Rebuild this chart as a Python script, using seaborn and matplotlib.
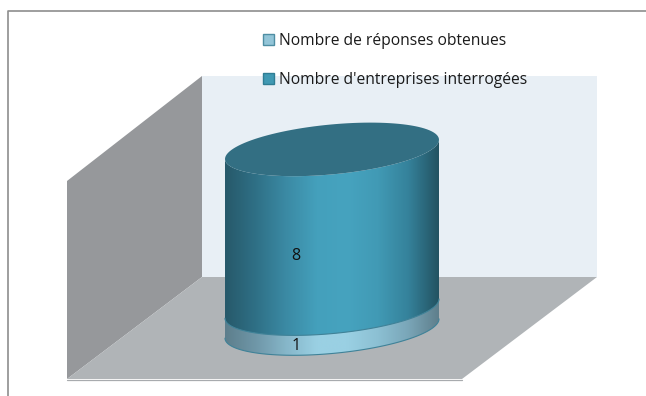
"""Cylindre empile 3D : reponses obtenues / entreprises interrogees."""

import matplotlib

matplotlib.use("Agg")

import matplotlib.pyplot as plt
import numpy as np
import seaborn as sns
from matplotlib.colors import LinearSegmentedColormap
from matplotlib.lines import Line2D
from matplotlib.patches import Patch, Polygon
from matplotlib.transforms import Affine2D

series_names = ["Nombre de réponses obtenues", "Nombre d'entreprises interrogées"]
series_values = [1, 8]

W, H = 646, 396
FONT = "Open Sans"
PX_PER_VALUE = 19.9
PX_PER_X = 267.5
DEPTH = 25 / PX_PER_VALUE
TILT = 1.21

sns.set_theme(style="white")
plt.rcParams["font.family"] = [FONT, "DejaVu Sans"]

fig = plt.figure(figsize=(W / 100, H / 100), dpi=100, facecolor="white")
ax = fig.add_axes([0, 0, 1, 1])

# the bars give the geometry, the cylinder is painted over them
bottoms = np.cumsum([0] + series_values[:-1])
for value, bottom in zip(series_values, bottoms):
    sns.barplot(x=["Q"], y=[value], bottom=bottom, width=0.8, ax=ax, color="white")
bars = list(ax.patches)

xlim = (-332 / PX_PER_X, (W - 332) / PX_PER_X)
ylim = ((328.5 - H) / PX_PER_VALUE, 328.5 / PX_PER_VALUE)

# decor is placed in pixels, y going down
px = Affine2D().scale(1 / W, -1 / H).translate(0, 1) + fig.transFigure


def decor(points, color, edge="none"):
    ax.add_patch(Polygon(points, closed=True, fc=color, ec=edge, lw=1, transform=px, zorder=1))


decor([(202, 76), (597, 76), (597, 277), (202, 277)], "#e8eff5")
decor([(67, 181), (202, 76), (202, 277), (67, 379)], "#96989b")
decor([(67, 379), (202, 277), (597, 277), (462, 379)], "#b0b4b7")
ax.add_line(Line2D([67, 462], [379.5, 379.5], color="#a8abae", lw=0.9, transform=px, zorder=2))
ax.add_line(Line2D([7.5, 7.5, W], [H, 10.5, 10.5], color="#8e8e8e", lw=1.2, transform=px, zorder=2))


def rim(center, half, level, start, stop):
    t = np.linspace(start, stop, 120)
    dx = half * np.cos(t)
    return center + dx, level + DEPTH * np.sin(t) + TILT * dx


shades = [
    ["#5d7e8c", "#6f97a8", "#86b6c9", "#9ad0e3", "#9ad0e3", "#8cc0d3", "#7aa6b8", "#5f7f8c"],
    ["#27596a", "#2f7086", "#3b8aa4", "#44a0bc", "#46a3bf", "#419ab5", "#35829b", "#235362"],
]

for bar, colors in zip(bars, shades):
    bar.set_visible(False)
    center = bar.get_x() + bar.get_width() / 2
    half = bar.get_width() / 2
    low, high = bar.get_y(), bar.get_y() + bar.get_height()
    x_high, y_high = rim(center, half, high, np.pi, 2 * np.pi)
    x_low, y_low = rim(center, half, low, 2 * np.pi, np.pi)
    outline = np.column_stack([np.r_[x_high, x_low], np.r_[y_high, y_low]])
    clip = Polygon(outline, closed=True, fc="none", ec="none", transform=ax.transData)
    ax.add_patch(clip)
    cmap = LinearSegmentedColormap.from_list("cyl", colors)
    img = ax.imshow(
        np.linspace(0, 1, 256)[None, :],
        cmap=cmap,
        aspect="auto",
        interpolation="bilinear",
        extent=(center - half, center + half, low - 3, high + 3),
        zorder=3,
    )
    img.set_clip_path(clip)
    ax.plot(x_low, y_low, color="#3f8298", lw=0.8, zorder=4)

    # value label sits on the front of the cylinder
    ax.text(
        center - 36 / PX_PER_X,
        (low + high) / 2 - DEPTH * 1.1,
        str(int(bar.get_height())),
        ha="center",
        va="center",
        fontsize=11.5,
        color="#111111",
        zorder=6,
    )

# top cap
last = bars[-1]
cap_x, cap_y = rim(
    last.get_x() + last.get_width() / 2,
    last.get_width() / 2,
    last.get_y() + last.get_height(),
    0,
    2 * np.pi,
)
ax.fill(cap_x, cap_y, color="#336f83", lw=0, zorder=5)

ax.set_xlim(*xlim)
ax.set_ylim(*ylim)
ax.set_axis_off()

handles = [
    Patch(fc="#93c5d8", ec="#4f8ea3", lw=1),
    Patch(fc="#4099b3", ec="#2f7d94", lw=1),
]
legend = ax.legend(
    handles,
    series_names,
    loc="upper left",
    bbox_to_anchor=(263 / W, 1 - 33 / H),
    frameon=False,
    fontsize=11.25,
    handlelength=0.72,
    handleheight=0.72,
    handletextpad=0.3,
    labelspacing=1.46,
    borderpad=0,
    borderaxespad=0,
)
legend.set_zorder(7)
for text in legend.get_texts():
    text.set_color("#1a1a1a")

fig.savefig("out.png", dpi=100)
